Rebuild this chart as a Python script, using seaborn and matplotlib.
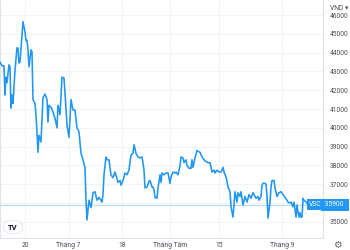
import numpy as np
import pandas as pd
import matplotlib
matplotlib.use("Agg")
import matplotlib.pyplot as plt
from matplotlib.patches import Circle
import seaborn as sns

# ---- data (trading-day offset from 2022-06-13, price in VND) ----
day = [-0.15, 0.26, 0.67, 0.88, 1.08, 1.29, 1.70, 1.91, 2.11, 2.32, 2.53, 2.94, 3.35, 3.56, 3.76, 3.97,
       4.59, 5.00, 5.21, 5.41, 5.62, 5.82, 6.24, 6.44, 6.65, 7.06, 7.27, 7.47, 7.68, 7.89, 8.30, 8.71,
       9.12, 9.54, 9.74, 9.95, 10.36, 10.77, 11.19, 11.60, 11.80, 12.22, 12.63, 13.04, 13.25, 13.66,
       14.07, 14.49, 14.90, 15.31, 15.72, 16.13, 16.55, 16.96, 17.37, 17.58, 17.78, 18.20, 18.61,
       19.02, 19.43, 19.85, 20.26, 20.67, 20.88, 21.08, 21.29, 21.70, 21.91, 22.32, 22.73, 23.14,
       23.56, 23.76, 24.18, 24.59, 24.80, 25.21, 25.62, 26.03, 26.44, 26.86, 27.27, 27.48, 27.89,
       28.30, 28.71, 29.13, 29.54, 29.74, 30.16, 30.57, 30.78, 31.19, 31.39, 31.60, 31.81, 32.22,
       32.42, 32.84, 33.04, 33.25, 33.66, 34.07, 34.49, 34.90, 35.11, 35.52, 35.93, 36.14, 36.55,
       36.96, 37.17, 37.58, 37.79, 38.20, 38.40, 38.82, 39.23, 39.43, 39.64, 40.05, 40.47, 40.67,
       41.09, 41.50, 41.91, 42.32, 42.73, 43.15, 43.56, 43.97, 44.18, 44.59, 45.00, 45.41, 45.83,
       46.03, 46.45, 46.86, 47.27, 47.48, 47.89, 48.30, 48.71, 48.92, 49.33, 49.54, 49.95, 50.36,
       50.78, 51.19, 51.60, 52.01, 52.43, 52.63, 53.04, 53.25, 53.66, 53.87, 54.07, 54.49, 54.69,
       54.90, 55.11, 55.52, 55.72, 55.93, 56.34, 56.55, 56.96, 57.37, 57.79, 58.20, 58.61, 59.02,
       59.23, 59.64, 59.85, 60.26, 60.46, 60.67, 60.88, 61.09, 61.29, 61.50, 61.71, 61.91, 62.12,
       62.33, 62.53, 62.94, 63.35]
price = [43500, 43300, 43300, 41750, 42700, 42400, 43350, 43250, 41050, 41750, 41300, 43050, 44250, 44250, 43450, 43500,
         45650, 45100, 44650, 44650, 44150, 43250, 44150, 44050, 41500, 41300, 40700, 39800, 38700, 39600, 39250, 41600,
         41800, 41500, 40300, 41200, 41100, 40850, 40500, 40000, 41200, 40700, 42700, 42650, 41850, 40150,
         39500, 41500, 40950, 40950, 40000, 39800, 38650, 38300, 37900, 36150, 35100, 36150, 35750,
         36550, 36600, 36150, 36300, 36150, 36050, 36450, 37500, 38450, 38300, 38300, 37500, 37350,
         37650, 37500, 37100, 37200, 36950, 37200, 37600, 37500, 37750, 38550, 38650, 39100, 38650,
         38450, 38400, 38450, 37750, 36800, 36850, 37150, 37200, 36850, 36850, 36700, 36300, 36250,
         36800, 37500, 37100, 37600, 37500, 37600, 37600, 37050, 37400, 37650, 37600, 37650, 37500,
         38000, 38450, 38400, 38150, 38300, 38000, 37850, 37850, 38300, 37900, 38400, 38800, 38750,
         38700, 38450, 38300, 38200, 38150, 38150, 37650, 37750, 37600, 37750, 37650, 37650, 37900,
         37650, 37400, 36850, 36600, 35800, 35250, 36600, 36050, 36550, 36350, 36600, 35900, 36350,
         36050, 36450, 36250, 36550, 36350, 36250, 36350, 36150, 36350, 36950, 37050, 37050, 37000,
         36350, 35200, 36050, 36850, 37200, 37200, 36800, 36350, 36550, 36600, 36450, 36300, 36150,
         36050, 36000, 36050, 35800, 36050, 35650, 35250, 35900, 35500, 35250, 35500, 35250, 35250,
         36250, 36150, 36050, 35900]

tick_dates = ["2022-06-20", "2022-07-01", "2022-07-18", "2022-08-01", "2022-08-15", "2022-09-01"]
tick_labels = ["20", "Tháng 7", "18", "Tháng Tám", "15", "Tháng 9"]
y_ticks = [35000, 36000, 37000, 38000, 39000, 40000, 41000, 42000, 43000, 44000, 45000, 46000]
y_labels = ["35000", "", "37000", "38000", "39000", "40000", "41000", "42000", "43000", "44000", "45000", "46000"]
last_price = 35900
symbol = "VSC"
currency = "VND"

# ---- style ----
sns.set_style("white")
plt.rcParams["font.family"] = ["Roboto", "DejaVu Sans"]

blue = "#2196F3"
txt = "#4a4e5a"
grid = "#f0f3fa"

fig = plt.figure(figsize=(3.5, 2.5), dpi=100)
ax = fig.add_axes([0.0, 0.048, 0.923, 0.952])

df = pd.DataFrame({"day": day, "price": price})
sns.lineplot(data=df, x="day", y="price", ax=ax, color=blue, linewidth=1.15, zorder=3)

bdays = pd.bdate_range("2022-06-13", "2022-09-30")
tick_pos = [int(bdays.get_loc(pd.Timestamp(d))) for d in tick_dates]

ax.set_xlim(-0.15, 66.45)
ax.set_ylim(34140, 46800)
ax.set_xticks(tick_pos)
ax.set_xticklabels(tick_labels)
ax.set_yticks(y_ticks)
ax.set_yticklabels(y_labels)
ax.yaxis.tick_right()
ax.tick_params(axis="both", length=0, labelsize=4.9, colors=txt)
ax.tick_params(axis="y", pad=5)
ax.tick_params(axis="x", pad=3.2)
ax.set_xlabel("")
ax.set_ylabel("")
ax.grid(True, color=grid, linewidth=0.8)
ax.set_axisbelow(True)
ax.spines["top"].set_visible(False)
for s in ["right", "bottom", "left"]:
    ax.spines[s].set_color("#e0e3eb")
    ax.spines[s].set_linewidth(0.8)

# last price line
ax.axhline(last_price, color="#b3d9fb", linewidth=0.8, zorder=2)

# labels for last price
ax.text(0.995, last_price, symbol, transform=ax.get_yaxis_transform(), ha="right", va="center",
        fontsize=4.9, color="white", zorder=6,
        bbox=dict(boxstyle="square,pad=0.3", fc=blue, ec="none"))
ax.text(1.0, last_price, f" {last_price}  ", transform=ax.get_yaxis_transform(), ha="left", va="center",
        fontsize=4.9, color="white", zorder=6, clip_on=False,
        bbox=dict(boxstyle="square,pad=0.35", fc=blue, ec="none"))

# currency label
fig.text(0.943, 0.98, currency + " ▾", ha="left", va="top", fontsize=4.9, color=txt,
         family=["Roboto", "DejaVu Sans"])

# settings gear
fig.text(0.963, 0.02, "⚙", ha="center", va="center", fontsize=7, color="#6a6d78",
         family=["DejaVu Sans"])

# TradingView logo badge
circ = Circle((13 / 350, 1 - 227 / 250), 0.028, transform=fig.transFigure, fc="white",
              ec="#e0e3eb", lw=0.6, zorder=10)
fig.patches.append(circ)
fig.text(13 / 350, 1 - 227 / 250, "TV", ha="center", va="center", fontsize=5.5,
         fontweight="bold", color="#131722", zorder=11)

fig.savefig("out.png", dpi=100)
